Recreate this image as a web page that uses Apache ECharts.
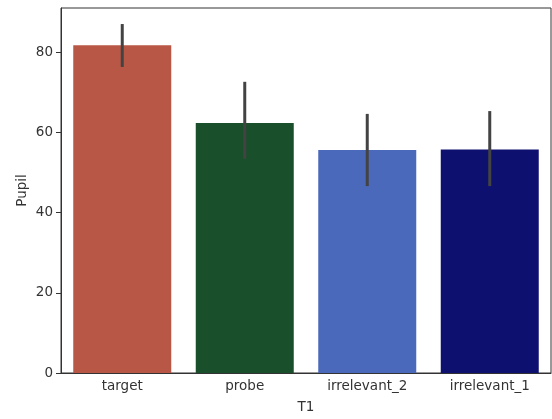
<!DOCTYPE html>
<html><head><meta charset="utf-8">
<script src="https://cdn.jsdelivr.net/npm/echarts@6/dist/echarts.min.js"></script>
<style>html,body{margin:0;padding:0;background:#fff}#c{width:552px;height:419px}</style>
</head><body><div id="c"></div>
<script>
const categories = ['target', 'probe', 'irrelevant_2', 'irrelevant_1'];
const means = [81.7, 62.3, 55.6, 55.7];
const ciLow = [76.3, 53.4, 46.6, 46.6];
const ciHigh = [87.0, 72.6, 64.6, 65.3];
const barColors = ['#b85745', '#1a4f2b', '#4b69bb', '#0e1070'];
const yTicks = [0, 20, 40, 60, 80];

const chart = echarts.init(document.getElementById('c'), null, {renderer: 'canvas'});
const font = 'DejaVu Sans';
const fs = 13.5;
chart.setOption({
  animation: false,
  grid: {left: 61, right: 1, top: 8, bottom: 46, show: true, borderColor: '#333', borderWidth: 1},
  xAxis: {
    type: 'category', data: categories,
    name: 'T1', nameLocation: 'middle', nameGap: 27, nameMoveOverlap: false,
    nameTextStyle: {fontFamily: font, fontSize: fs, color: '#333'},
    axisLine: {lineStyle: {color: '#333'}},
    axisTick: {alignWithLabel: true, length: 4, lineStyle: {color: '#333'}},
    axisLabel: {fontFamily: font, fontSize: fs, color: '#333', margin: 6}
  },
  yAxis: {
    type: 'value', min: 0, max: 91, interval: 20,
    name: 'Pupil', nameLocation: 'middle', nameGap: 32, nameMoveOverlap: false,
    nameTextStyle: {fontFamily: font, fontSize: fs, color: '#333'},
    axisLine: {show: true, lineStyle: {color: '#333'}},
    axisTick: {show: true, length: 5, lineStyle: {color: '#333'}, customValues: yTicks},
    axisLabel: {fontFamily: font, fontSize: fs, color: '#333', margin: 8, customValues: yTicks},
    splitLine: {show: false}
  },
  series: [{
    type: 'bar', barWidth: '80%',
    data: means.map((v, i) => ({value: v, itemStyle: {color: barColors[i]}}))
  }, {
    type: 'custom',
    data: categories.map((c, i) => [i, ciLow[i], ciHigh[i]]),
    renderItem: (params, api) => {
      const p1 = api.coord([api.value(0), api.value(1)]);
      const p2 = api.coord([api.value(0), api.value(2)]);
      return {type: 'line', shape: {x1: p1[0], y1: p1[1], x2: p2[0], y2: p2[1]},
        style: {stroke: '#434343', lineWidth: 3}};
    },
    z: 10
  }]
});
</script></body></html>
